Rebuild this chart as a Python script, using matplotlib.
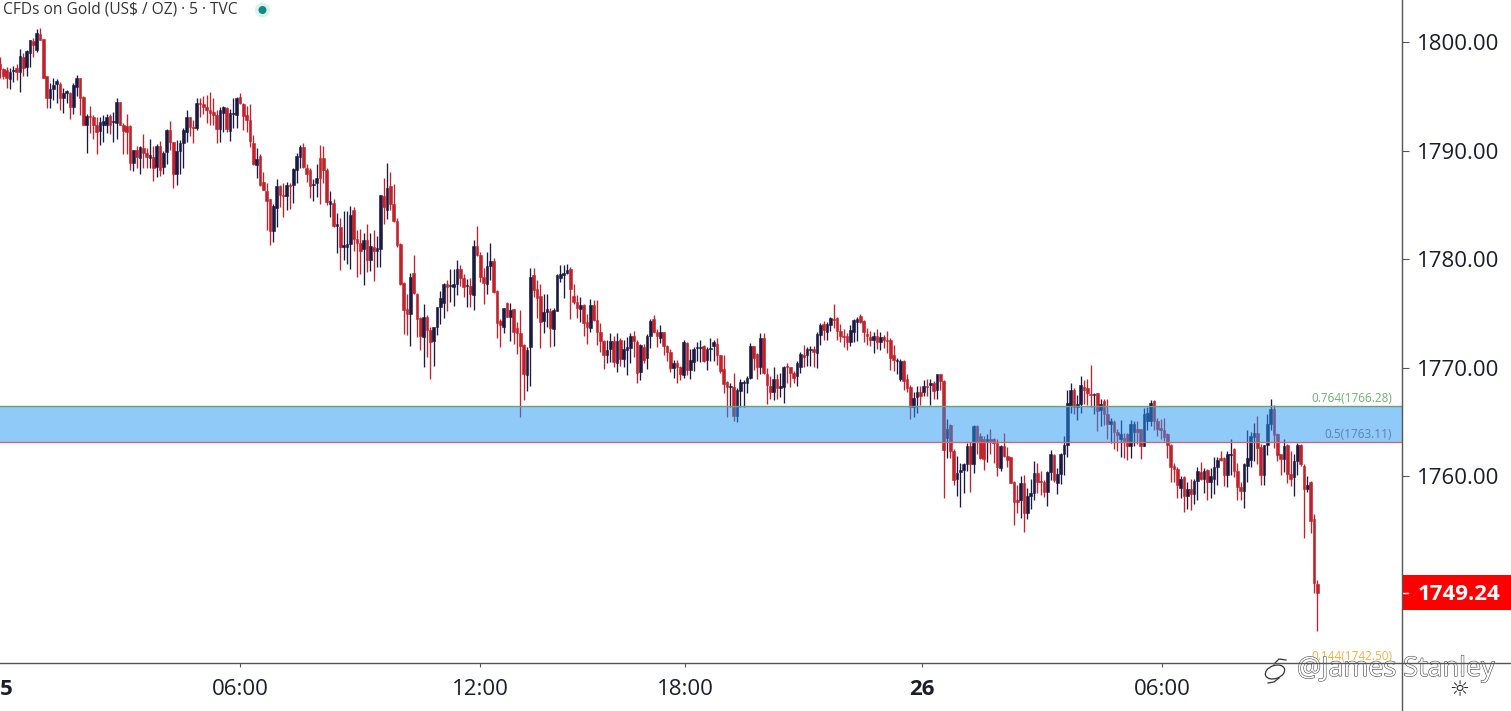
import numpy as np
import matplotlib
matplotlib.use("Agg")
import matplotlib.pyplot as plt
from matplotlib.patches import Rectangle, Ellipse, Circle
import matplotlib.patheffects as pe

plt.rcParams['font.family'] = ['Open Sans', 'DejaVu Sans']

###5 minute bars
opens = [
    1798.0, 1797.5, 1797.4, 1796.6, 1797.3, 1797.6, 1797.2, 1798.6, 1797.7, 1799.0,
    1800.1, 1799.3, 1800.7, 1800.3, 1796.9, 1794.8, 1795.7, 1796.1, 1796.1, 1794.8,
    1795.3, 1795.3, 1794.0, 1795.9, 1796.7, 1794.9, 1792.4, 1793.2, 1793.1, 1792.4,
    1791.8, 1792.4, 1792.4, 1793.2, 1792.6, 1792.5, 1794.5, 1792.4, 1792.3, 1792.3,
    1788.9, 1790.1, 1789.3, 1790.2, 1789.8, 1789.3, 1789.4, 1788.5, 1790.4, 1788.5,
    1789.9, 1791.9, 1790.8, 1787.8, 1790.0, 1790.7, 1791.7, 1793.1, 1792.2, 1792.1,
    1794.4, 1794.3, 1794.0, 1793.7, 1793.6, 1793.3, 1792.0, 1793.5, 1793.9, 1791.8,
    1793.4, 1793.3, 1794.9, 1794.3, 1793.3, 1792.8, 1790.7, 1788.7, 1789.5, 1787.1,
    1786.3, 1785.5, 1782.6, 1784.7, 1786.7, 1785.9, 1785.8, 1786.8, 1786.8, 1788.2,
    1789.4, 1790.3, 1788.4, 1788.2, 1786.8, 1787.0, 1789.3, 1789.3, 1788.2, 1785.1,
    1785.2,
    1783.1, 1783.0, 1781.1, 1781.1, 1781.4, 1784.5, 1781.9, 1781.5, 1780.9, 1781.8,
    1779.9, 1781.1, 1780.8, 1780.9, 1785.8, 1784.5, 1786.7, 1785.1, 1783.5, 1781.4,
    1777.8, 1775.4, 1775.0, 1778.7, 1776.8, 1774.6, 1772.8, 1774.7, 1773.5, 1772.5,
    1773.8, 1775.6, 1776.0, 1777.7, 1777.5, 1777.4, 1777.7, 1779.1, 1778.3, 1777.5,
    1777.5, 1776.7, 1781.2, 1780.4, 1778.4, 1777.7, 1779.4, 1779.8, 1777.1, 1774.3,
    1773.8, 1776.0, 1774.7, 1775.4, 1773.7, 1773.2, 1772.1, 1769.3, 1771.9, 1778.5,
    1777.3, 1776.6, 1774.3, 1775.1, 1775.2, 1773.6, 1775.2, 1778.3, 1778.5, 1778.7,
    1779.1, 1776.6, 1776.1, 1775.4, 1775.8, 1774.2, 1773.7, 1775.8, 1774.4, 1773.3,
    1772.5, 1771.2, 1771.7, 1772.5, 1770.4, 1772.6, 1770.8, 1771.6, 1771.8, 1772.9,
    1772.4, 1769.6, 1771.9, 1770.9, 1772.9, 1774.5, 1773.3,
    1772.7, 1773.3, 1772.0, 1771.5, 1770.0, 1770.4, 1770.1, 1769.3, 1772.3, 1769.8,
    1770.5, 1771.8, 1771.8, 1772.0, 1770.7, 1771.7, 1772.0, 1772.2, 1771.2, 1769.9,
    1768.7, 1768.2, 1768.2, 1765.6, 1767.9, 1768.6, 1768.6, 1769.1, 1772.0, 1771.3,
    1770.1, 1772.7, 1769.4, 1768.3, 1767.8, 1769.0, 1768.1, 1768.2, 1770.2, 1770.1,
    1769.5, 1769.2, 1770.1, 1771.2, 1771.2, 1771.6, 1771.7, 1771.4, 1773.0, 1774.0,
    1773.3, 1773.9, 1774.5, 1774.6, 1773.4, 1772.9, 1772.9, 1772.4, 1773.3, 1774.2,
    1774.8, 1774.3, 1773.1, 1772.8, 1772.6, 1772.9, 1772.4, 1772.8, 1772.6, 1772.6,
    1771.2, 1770.6, 1769.0, 1770.6, 1769.0, 1768.2, 1766.4, 1767.3, 1767.8, 1767.8,
    1768.3, 1768.4, 1768.6, 1768.0, 1769.4, 1768.8, 1763.5, 1764.7, 1762.3, 1759.8,
    1760.4, 1760.6, 1761.1, 1762.8, 1761.1, 1764.6, 1763.7, 1763.4, 1763.3, 1763.4,
    1763.4, 1763.1,
    1760.8, 1762.8, 1761.9, 1761.8, 1759.5, 1757.8, 1757.8, 1759.4, 1756.6, 1758.2,
    1758.5, 1760.3, 1759.6, 1759.5, 1758.6, 1760.4, 1762.0, 1759.4, 1760.2, 1762.1,
    1762.9, 1766.5, 1768.0, 1766.4, 1766.7, 1768.2, 1768.1, 1767.6, 1767.5, 1767.7,
    1766.1, 1766.9, 1765.7, 1764.8, 1765.0, 1764.1, 1763.4, 1763.5, 1763.9, 1762.8,
    1764.1, 1764.4, 1764.4, 1762.8, 1765.1, 1765.1, 1766.9, 1765.1, 1764.5, 1764.3,
    1763.9, 1762.9, 1761.0, 1760.7, 1758.9, 1759.9, 1758.2, 1758.8, 1758.4, 1759.6,
    1760.4, 1759.8, 1760.6, 1759.5, 1759.8, 1760.9, 1761.7, 1761.7, 1760.1, 1762.0,
    1762.5, 1760.5, 1759.0, 1758.7, 1761.0, 1761.5, 1763.6, 1764.0, 1762.7, 1760.1,
    1762.9, 1764.8, 1766.2, 1763.9, 1762.1, 1761.6, 1762.9, 1760.2, 1759.9, 1761.4,
    1762.9, 1761.0, 1758.8, 1759.5, 1756.1, 1750.1,
]
highs = [
    1798.6, 1797.6, 1797.7, 1797.6, 1797.8, 1798.0, 1799.4, 1799.0, 1799.3, 1800.2,
    1800.4, 1801.2, 1801.3, 1800.3, 1796.9, 1796.2, 1796.7, 1796.6, 1796.3, 1795.8,
    1795.6, 1795.4, 1796.2, 1797.0, 1796.7, 1795.0, 1793.4, 1794.1, 1793.3, 1793.1,
    1793.1, 1793.3, 1793.4, 1793.4, 1793.6, 1794.8, 1794.5, 1792.5, 1793.4, 1792.4,
    1790.1, 1790.4, 1790.4, 1791.5, 1790.2, 1791.1, 1790.4, 1790.6, 1790.9, 1790.0,
    1792.0, 1792.7, 1790.8, 1791.0, 1791.0, 1792.1, 1793.7, 1793.1, 1792.8, 1794.8,
    1794.8, 1795.0, 1795.1, 1795.4, 1794.8, 1793.7, 1794.0, 1794.1, 1794.0, 1793.8,
    1794.8, 1794.9, 1795.3, 1794.4, 1794.1, 1794.3, 1791.4, 1790.2, 1789.7, 1788.0,
    1787.0, 1785.5, 1785.1, 1787.4, 1786.8, 1787.0, 1787.1, 1787.0, 1788.4, 1789.8,
    1790.5, 1790.7, 1788.8, 1788.4, 1787.4, 1788.8, 1790.5, 1790.4, 1788.4, 1786.3,
    1785.5,
    1784.3, 1783.8, 1784.4, 1784.4, 1784.9, 1784.8, 1782.7, 1782.8, 1782.4, 1783.2,
    1782.4, 1782.7, 1782.1, 1785.9, 1787.5, 1788.9, 1788.0, 1786.9, 1783.8, 1781.5,
    1777.9, 1776.8, 1778.7, 1780.4, 1776.9, 1774.7, 1775.9, 1774.9, 1773.8, 1773.8,
    1775.6, 1777.1, 1777.8, 1778.1, 1779.1, 1779.1, 1779.9, 1779.5, 1778.6, 1778.2,
    1778.3, 1781.8, 1783.1, 1780.7, 1779.2, 1780.7, 1781.5, 1780.1, 1777.2, 1774.5,
    1775.5, 1776.1, 1776.0, 1775.4, 1774.2, 1775.3, 1772.2, 1771.9, 1779.2, 1779.2,
    1778.1, 1777.7, 1776.8, 1776.8, 1775.5, 1775.5, 1778.6, 1779.5, 1779.5, 1779.6,
    1779.3, 1777.7, 1776.7, 1776.5, 1775.9, 1775.0, 1776.3, 1776.2, 1776.2, 1774.1,
    1772.6, 1772.6, 1773.2, 1772.9, 1773.2, 1772.7, 1772.6, 1772.8, 1773.2, 1773.4,
    1772.6, 1772.2, 1772.2, 1773.1, 1774.5, 1774.9, 1773.6,
    1773.9, 1773.3, 1772.1, 1771.7, 1770.7, 1770.7, 1770.2, 1772.6, 1772.4, 1771.7,
    1771.9, 1772.4, 1772.6, 1772.1, 1771.9, 1772.7, 1772.6, 1772.7, 1771.2, 1771.2,
    1768.8, 1768.6, 1769.5, 1768.1, 1769.0, 1768.9, 1769.2, 1772.3, 1772.0, 1771.4,
    1773.2, 1773.2, 1770.0, 1769.2, 1770.1, 1769.4, 1769.5, 1770.2, 1770.4, 1770.1,
    1769.7, 1770.6, 1771.5, 1772.1, 1771.9, 1772.0, 1772.0, 1773.3, 1774.1, 1774.3,
    1774.2, 1774.7, 1775.9, 1774.7, 1774.0, 1773.6, 1773.2, 1773.9, 1774.5, 1774.7,
    1775.0, 1774.4, 1773.7, 1773.4, 1773.3, 1773.6, 1773.3, 1773.0, 1773.4, 1772.7,
    1772.1, 1770.9, 1770.8, 1770.7, 1769.4, 1768.4, 1767.8, 1768.3, 1768.3, 1768.9,
    1769.0, 1769.0, 1768.8, 1769.4, 1769.4, 1768.9, 1765.3, 1764.8, 1762.5, 1761.9,
    1761.2, 1761.2, 1763.1, 1763.2, 1764.7, 1764.7, 1764.0, 1763.7, 1763.9, 1764.4,
    1763.5, 1763.4,
    1762.9, 1764.0, 1762.7, 1761.8, 1759.6, 1759.2, 1760.0, 1760.1, 1758.9, 1759.8,
    1761.4, 1761.2, 1760.5, 1759.7, 1760.5, 1762.4, 1762.1, 1760.8, 1762.2, 1763.7,
    1768.0, 1768.6, 1768.1, 1767.5, 1769.2, 1768.9, 1769.0, 1770.3, 1767.7, 1767.7,
    1767.1, 1767.1, 1767.1, 1765.4, 1765.2, 1764.4, 1765.2, 1764.0, 1764.0, 1765.2,
    1765.1, 1765.1, 1764.4, 1766.3, 1766.4, 1767.0, 1767.0, 1765.4, 1765.3, 1765.4,
    1764.0, 1763.0, 1761.2, 1760.9, 1760.0, 1760.0, 1759.5, 1759.8, 1759.8, 1760.9,
    1761.3, 1760.8, 1760.7, 1760.8, 1761.8, 1761.8, 1762.3, 1761.8, 1762.3, 1763.4,
    1762.6, 1761.2, 1759.5, 1761.2, 1764.3, 1764.1, 1764.9, 1765.6, 1763.0, 1762.9,
    1765.7, 1767.1, 1766.6, 1764.0, 1762.1, 1763.4, 1763.0, 1762.3, 1762.1, 1763.1,
    1763.0, 1761.1, 1760.0, 1759.6, 1756.5, 1750.5,
]
lows = [
    1796.7, 1796.6, 1795.8, 1795.7, 1796.3, 1796.5, 1795.4, 1796.9, 1796.9, 1797.7,
    1798.6, 1799.1, 1800.2, 1796.7, 1793.9, 1793.9, 1794.7, 1794.4, 1793.7, 1793.5,
    1794.4, 1792.9, 1793.4, 1795.0, 1793.3, 1792.4, 1789.8, 1791.6, 1791.1, 1789.7,
    1790.5, 1790.8, 1791.6, 1791.5, 1790.8, 1791.1, 1792.4, 1789.7, 1789.7, 1788.2,
    1788.1, 1788.4, 1787.8, 1788.4, 1788.4, 1788.4, 1787.2, 1787.6, 1787.7, 1787.8,
    1788.8, 1790.1, 1786.6, 1786.8, 1787.8, 1788.4, 1790.8, 1791.3, 1790.7, 1791.9,
    1793.1, 1793.4, 1792.5, 1792.4, 1792.4, 1790.7, 1790.8, 1791.7, 1791.7, 1790.9,
    1792.1, 1792.1, 1794.3, 1791.9, 1791.7, 1790.3, 1788.7, 1787.5, 1786.7, 1786.4,
    1782.7, 1781.3, 1781.6, 1783.0, 1784.8, 1783.9, 1784.5, 1784.6, 1785.2, 1787.0,
    1788.4, 1788.4, 1787.1, 1785.6, 1785.4, 1785.7, 1785.1, 1787.0, 1785.0, 1783.9,
    1783.0,
    1780.6, 1779.0, 1779.9, 1779.6, 1779.1, 1780.8, 1778.4, 1778.6, 1777.6, 1778.8,
    1778.9, 1778.0, 1779.3, 1779.3, 1783.2, 1783.7, 1784.5, 1783.4, 1781.1, 1777.6,
    1773.1, 1773.0, 1772.0, 1776.8, 1772.8, 1771.6, 1770.1, 1771.0, 1769.0, 1770.2,
    1773.0, 1774.0, 1774.6, 1775.2, 1776.1, 1775.7, 1776.7, 1777.5, 1776.5, 1775.6,
    1775.6, 1775.3, 1780.3, 1777.9, 1775.9, 1776.8, 1778.1, 1776.9, 1772.7, 1771.9,
    1773.2, 1774.7, 1772.5, 1772.2, 1771.3, 1765.5, 1767.0, 1767.9, 1768.3, 1776.5,
    1774.6, 1771.8, 1773.2, 1773.8, 1771.9, 1772.0, 1775.2, 1777.9, 1776.4, 1778.6,
    1774.5, 1775.9, 1774.6, 1774.2, 1772.9, 1772.2, 1773.3, 1774.3, 1772.1, 1771.5,
    1769.9, 1770.4, 1770.5, 1770.1, 1769.6, 1770.2, 1770.1, 1769.3, 1770.4, 1771.0,
    1768.6, 1768.9, 1770.4, 1769.9, 1771.8, 1773.2, 1771.9,
    1772.3, 1771.2, 1770.6, 1769.6, 1769.1, 1768.6, 1768.9, 1769.1, 1769.3, 1769.0,
    1769.7, 1770.6, 1770.5, 1770.5, 1769.8, 1770.6, 1770.6, 1770.3, 1769.5, 1767.7,
    1765.5, 1766.4, 1765.1, 1765.0, 1766.4, 1766.4, 1767.7, 1769.0, 1769.8, 1769.0,
    1769.4, 1769.4, 1766.7, 1767.1, 1767.0, 1767.1, 1767.3, 1766.8, 1768.6, 1768.2,
    1768.6, 1768.3, 1769.5, 1770.1, 1770.2, 1770.2, 1770.1, 1770.0, 1772.1, 1772.6,
    1772.6, 1773.4, 1773.7, 1772.6, 1772.4, 1771.9, 1771.6, 1772.0, 1772.4, 1772.5,
    1774.1, 1772.4, 1772.1, 1772.0, 1771.4, 1771.7, 1771.6, 1771.8, 1771.4, 1769.8,
    1769.7, 1769.4, 1768.8, 1768.0, 1767.8, 1765.3, 1765.5, 1765.8, 1766.6, 1767.4,
    1767.4, 1766.6, 1767.1, 1767.1, 1768.0, 1758.0, 1761.7, 1761.7, 1759.2, 1758.2,
    1757.2, 1758.5, 1760.5, 1758.6, 1760.3, 1762.1, 1761.6, 1760.6, 1761.3, 1762.1,
    1761.2, 1760.0,
    1760.5, 1761.8, 1760.9, 1759.4, 1755.5, 1756.6, 1756.2, 1754.9, 1756.1, 1757.0,
    1757.8, 1758.5, 1758.3, 1758.1, 1757.3, 1759.7, 1759.5, 1758.4, 1759.3, 1760.1,
    1761.8, 1765.8, 1765.7, 1765.2, 1765.8, 1766.7, 1766.6, 1766.4, 1765.7, 1764.2,
    1764.6, 1764.7, 1763.4, 1763.1, 1762.5, 1762.3, 1761.8, 1761.7, 1761.5, 1761.7,
    1762.8, 1763.0, 1761.6, 1762.8, 1764.3, 1764.6, 1764.3, 1763.7, 1763.4, 1763.3,
    1761.7, 1759.5, 1759.5, 1758.0, 1758.0, 1756.7, 1757.0, 1756.9, 1757.5, 1757.8,
    1759.7, 1758.5, 1757.8, 1758.0, 1758.4, 1759.2, 1761.4, 1759.1, 1759.0, 1760.1,
    1759.9, 1757.8, 1757.8, 1757.1, 1759.5, 1760.9, 1761.4, 1761.1, 1759.2, 1759.2,
    1762.0, 1764.3, 1762.6, 1761.4, 1760.1, 1760.4, 1759.4, 1759.1, 1758.2, 1760.1,
    1761.0, 1754.3, 1758.6, 1754.8, 1749.3, 1745.8,
]
closes = [
    1797.5, 1796.9, 1796.7, 1797.2, 1797.4, 1797.2, 1798.7, 1797.6, 1799.2, 1800.2,
    1799.7, 1800.8, 1800.2, 1796.7, 1794.8, 1795.7, 1796.0, 1796.4, 1794.8, 1795.3,
    1795.5, 1794.0, 1796.0, 1796.7, 1794.8, 1792.4, 1793.2, 1793.1, 1792.4, 1791.7,
    1792.6, 1792.7, 1793.1, 1792.4, 1792.7, 1794.5, 1792.4, 1791.8, 1791.7, 1788.9,
    1790.1, 1789.4, 1790.3, 1789.8, 1789.4, 1789.6, 1788.4, 1790.4, 1788.2, 1789.8,
    1791.9, 1790.8, 1787.8, 1790.0, 1790.7, 1791.9, 1793.1, 1792.2, 1792.1, 1794.4,
    1794.3, 1794.0, 1793.7, 1793.5, 1793.3, 1792.0, 1793.7, 1794.0, 1792.0, 1793.5,
    1793.5, 1794.8, 1794.4, 1793.2, 1792.8, 1790.9, 1788.8, 1789.2, 1786.8, 1786.4,
    1785.4, 1782.6, 1784.9, 1786.7, 1785.9, 1785.8, 1786.8, 1786.7, 1788.3, 1789.5,
    1790.3, 1788.5, 1787.8, 1786.7, 1786.9, 1787.5, 1787.5, 1788.2, 1785.3, 1785.4,
    1783.1,
    1783.2, 1781.1, 1781.3, 1781.4, 1784.1, 1781.9, 1781.5, 1780.8, 1781.8, 1779.9,
    1781.2, 1780.8, 1781.0, 1785.9, 1784.8, 1786.6, 1785.1, 1783.5, 1781.3, 1777.7,
    1775.3, 1775.0, 1778.4, 1776.9, 1774.5, 1772.9, 1774.7, 1773.5, 1772.4, 1773.8,
    1775.6, 1776.4, 1777.7, 1777.4, 1777.6, 1777.7, 1779.1, 1778.3, 1777.4, 1777.6,
    1776.8, 1781.2, 1780.4, 1778.4, 1777.8, 1779.4, 1779.8, 1777.0, 1774.1, 1773.9,
    1775.5, 1774.7, 1775.3, 1773.3, 1773.2, 1772.0, 1769.4, 1771.6, 1778.4, 1777.2,
    1776.4, 1774.2, 1775.1, 1775.4, 1773.7, 1775.3, 1778.5, 1778.6, 1778.7, 1779.0,
    1777.3, 1776.1, 1775.5, 1775.8, 1774.1, 1773.8, 1775.8, 1774.4, 1773.3, 1772.5,
    1771.2, 1771.6, 1772.5, 1770.5, 1772.5, 1770.8, 1771.7, 1771.9, 1772.9, 1772.5,
    1769.5, 1772.1, 1770.7, 1772.9, 1774.3, 1773.3, 1772.9,
    1773.3, 1772.0, 1771.5, 1770.0, 1770.4, 1770.1, 1769.4, 1772.4, 1769.8, 1770.7,
    1771.7, 1771.9, 1771.9, 1770.6, 1771.7, 1771.8, 1772.4, 1771.2, 1769.7, 1768.5,
    1768.2, 1768.3, 1765.6, 1768.0, 1768.7, 1768.7, 1769.1, 1772.0, 1770.9, 1770.1,
    1772.7, 1769.5, 1768.4, 1767.8, 1769.0, 1768.1, 1768.3, 1770.1, 1770.1, 1769.5,
    1769.1, 1770.4, 1771.3, 1771.0, 1771.7, 1771.7, 1771.5, 1773.1, 1773.9, 1773.5,
    1774.0, 1774.6, 1774.4, 1773.4, 1772.9, 1772.8, 1772.4, 1773.5, 1774.4, 1774.5,
    1774.2, 1773.3, 1772.9, 1772.6, 1772.9, 1772.4, 1772.8, 1772.6, 1772.5, 1770.9,
    1770.7, 1770.7, 1770.6, 1768.8, 1768.1, 1766.4, 1767.2, 1767.8, 1767.4, 1768.3,
    1768.2, 1768.6, 1767.9, 1769.4, 1768.8, 1762.4, 1764.4, 1762.3, 1759.7, 1760.3,
    1760.6, 1761.1, 1762.8, 1761.1, 1764.6, 1763.2, 1761.7, 1761.6, 1763.4, 1763.3,
    1763.1, 1760.9,
    1762.8, 1761.9, 1761.5, 1759.4, 1757.6, 1757.6, 1759.4, 1756.6, 1758.2, 1758.5,
    1760.3, 1759.5, 1759.5, 1758.6, 1760.4, 1762.1, 1759.7, 1760.2, 1762.1, 1762.9,
    1766.8, 1768.0, 1766.4, 1766.7, 1768.4, 1768.0, 1767.7, 1767.5, 1767.6, 1766.0,
    1766.7, 1765.7, 1764.8, 1765.1, 1764.1, 1763.8, 1763.9, 1763.3, 1762.8, 1764.8,
    1764.8, 1764.1, 1762.8, 1765.7, 1765.8, 1766.8, 1765.1, 1764.4, 1764.3, 1763.6,
    1762.9, 1760.9, 1760.7, 1759.2, 1759.8, 1758.2, 1758.8, 1758.4, 1759.6, 1760.5,
    1759.8, 1760.5, 1759.5, 1760.0, 1760.9, 1761.5, 1761.5, 1760.1, 1762.1, 1762.1,
    1760.5, 1759.0, 1758.7, 1761.1, 1761.7, 1763.7, 1764.0, 1762.6, 1760.1, 1762.9,
    1764.8, 1766.2, 1763.8, 1762.0, 1761.6, 1762.8, 1760.2, 1759.8, 1761.4, 1762.9,
    1761.1, 1758.8, 1759.2, 1755.9, 1750.2, 1749.24,
]

###labels and levels
price_ticks = [1800, 1790, 1780, 1770, 1760]
time_ticks = [2, 72, 144, 205.5, 276.5, 348.5]
time_labels = ["5", "06:00", "12:00", "18:00", "26", "06:00"]
zone_top = 1766.45
zone_bottom = 1763.13
fib_low = 1742.50

W, H = 1511, 711
bar_px = 3.335
axis_x = 1402
axis_y = 663

opens = np.array(opens)
highs = np.array(highs)
lows = np.array(lows)
closes = np.array(closes)
idx = np.arange(len(closes))

fig = plt.figure(figsize=(W / 100, H / 100), dpi=100, facecolor="white")
ax = fig.add_axes([0, (H - axis_y) / H, axis_x / W, axis_y / H])

down = closes < opens
colors = np.where(down, "#c2222b", "#1d1a42")

###candles
ax.vlines(idx, lows, highs, colors=colors, linewidth=0.95, zorder=2)
ax.bar(idx, np.abs(closes - opens), bottom=np.minimum(opens, closes), width=0.8,
       color=colors, edgecolor=colors, linewidth=0.4, zorder=3)

###fib zone sits on top of the candles
ax.axhspan(zone_bottom, zone_top, color="#2196F3", alpha=0.5, linewidth=0, zorder=4)
ax.axhline(zone_top, color="#6f9f72", linewidth=1, zorder=5)
ax.axhline(zone_bottom, color="#cf6a6e", linewidth=1, zorder=5)

right_edge = (axis_x - 10) / bar_px
ax.text(right_edge, zone_top + 0.15, "0.764(1766.28)", color="#6fae72", fontsize=8.5,
        ha="right", va="bottom", zorder=6)
ax.text(right_edge, zone_bottom + 0.1, "0.5(1763.11)", color="#5f7fb5", fontsize=8.5,
        ha="right", va="bottom", zorder=6)
ax.text(right_edge, fib_low + 0.35, "0.144(1742.50)", color="#f0b040", fontsize=8.5,
        ha="right", va="bottom", zorder=6)

ax.set_xlim(0, axis_x / bar_px)
ax.set_ylim(1800 - (axis_y - 42) / 10.86, 1800 + 42 / 10.86)

ax.yaxis.tick_right()
ax.set_yticks(price_ticks)
ax.set_yticklabels(["%.2f" % p for p in price_ticks], fontsize=16, color="#1a1e2a")
ax.tick_params(axis="y", length=5, width=0.8, color="#555555", pad=6)
ax.set_xticks(time_ticks)
ax.set_xticklabels(time_labels, fontsize=16, color="#1a1e2a")
ax.tick_params(axis="x", length=3, width=0.8, color="#555555", pad=8.5)
ax.xaxis.get_major_ticks()[0].tick1line.set_visible(False)
for lab in ax.get_xticklabels():
    if lab.get_text() in ("5", "26"):
        lab.set_fontweight("bold")
for side in ("top", "left", "right", "bottom"):
    ax.spines[side].set_visible(False)

###everything around the plot, in pixel positions
ov = fig.add_axes([0, 0, 1, 1], facecolor="none")
ov.set_xlim(0, W)
ov.set_ylim(H, 0)
ov.axis("off")
ov.plot([axis_x, axis_x], [0, H], color="#555555", linewidth=1, zorder=11)
ov.plot([0, W], [axis_y, axis_y], color="#555555", linewidth=1, zorder=11)

ov.text(3, 10, "CFDs on Gold (US$ / OZ) · 5 · TVC", fontsize=11.2, color="#333333",
        va="center", ha="left", parse_math=False)
ov.add_patch(Circle((262.5, 10), 7.5, facecolor="#d9f2ee", edgecolor="none"))
ov.add_patch(Circle((262.5, 10), 4, facecolor="#14897c", edgecolor="none"))

ov.add_patch(Rectangle((axis_x, 575), W - axis_x, 35, facecolor="#fe0000", edgecolor="none"))
ov.plot([axis_x, axis_x + 6], [593, 593], color="white", linewidth=1)
ov.text(1418, 594, "%.2f" % closes[-1], fontsize=16, fontweight="bold", color="white",
        va="center", ha="left")

ov.text(1459, 690, "\u263c", fontsize=16, color="#222222", ha="center", va="center",
        family="DejaVu Sans")

###watermark
outline = [pe.withStroke(linewidth=0.8, foreground="#444444")]
ov.text(1297, 669, "@James Stanley", fontsize=19.4, color="white", va="center", ha="left",
        path_effects=outline, zorder=10)
ov.add_patch(Ellipse((1275, 672), 20, 13, angle=-20, facecolor="white",
                     edgecolor="#333333", linewidth=0.9, zorder=10))
ov.plot([1274, 1279, 1286], [664, 659, 660], color="#333333", linewidth=0.9, zorder=10)
ov.plot([1279, 1274, 1268], [678, 682, 683], color="#333333", linewidth=0.9, zorder=10)

fig.savefig("out.png", dpi=100)
